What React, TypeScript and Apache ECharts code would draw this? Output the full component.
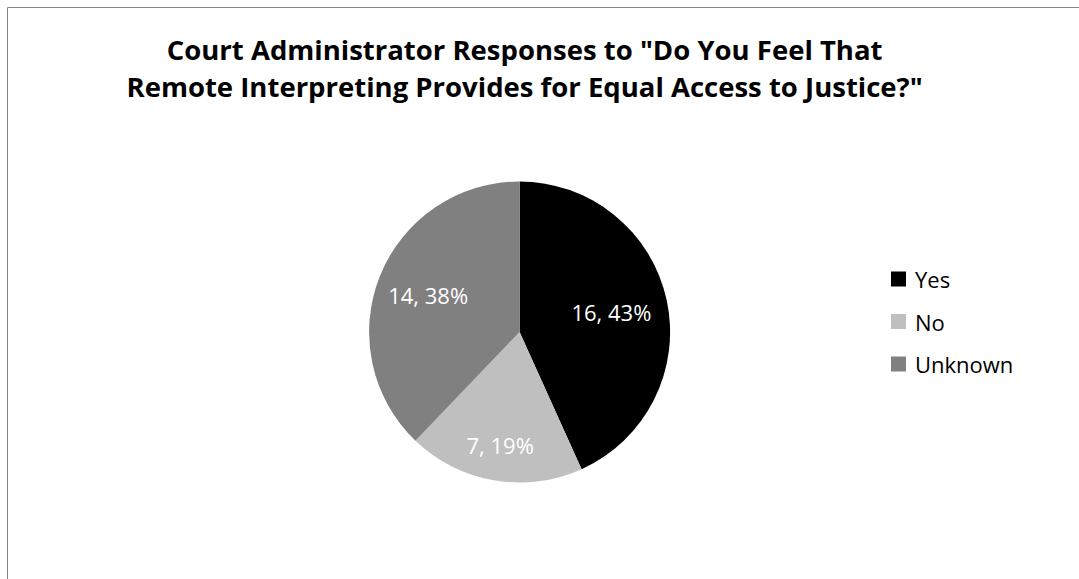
import React, { useEffect, useRef } from "react";
import * as echarts from "echarts";

const titleLines = [
  'Court Administrator Responses to "Do You Feel That',
  'Remote Interpreting Provides for Equal Access to Justice?"',
];
const categories = ["Yes", "No", "Unknown"];
const counts = [16, 7, 14];
const colors = ["#000000", "#bfbfbf", "#808080"];

const CX = 519.6;
const CY = 332;
const labelPush = [1.2, 1.47, 1.26];

export default function App() {
  const ref = useRef<HTMLDivElement>(null);
  useEffect(() => {
    if (!ref.current) return;
    const chart = echarts.init(ref.current, null, { renderer: "svg" });
    const total = counts.reduce((a, b) => a + b, 0);
    chart.setOption({
      animation: false,
      backgroundColor: "#ffffff",
      title: {
        text: titleLines.join("\n"),
        left: CX,
        top: 26,
        textAlign: "center",
        textStyle: {
          fontFamily: "Open Sans",
          fontWeight: "bold",
          fontSize: 27.5,
          lineHeight: 37,
          color: "#000000",
        },
      },
      legend: {
        orient: "vertical",
        left: 886,
        top: 263,
        itemWidth: 15,
        itemHeight: 15,
        itemGap: 20.5,
        icon: "rect",
        data: categories,
        textStyle: {
          fontFamily: "Open Sans",
          fontSize: 22,
          lineHeight: 22,
          color: "#000000",
          padding: [0, 0, 0, 4],
        },
      },
      graphic: [
        {
          type: "rect",
          shape: { x: 7.5, y: 7.5, width: 1200, height: 700 },
          style: { fill: "none", stroke: "#868686", lineWidth: 1 },
          silent: true,
          z: 100,
        },
      ],
      series: [
        {
          type: "pie",
          center: [CX, CY],
          radius: 150.5,
          startAngle: 90,
          clockwise: true,
          data: categories.map((c, i) => ({
            name: c,
            value: counts[i],
            itemStyle: { color: colors[i] },
          })),
          label: {
            show: true,
            position: "inside",
            color: "#ffffff",
            fontFamily: "Open Sans",
            fontSize: 22,
            formatter: (p: any) =>
              `${p.value}, ${Math.round((p.value / total) * 100)}%`,
          },
          labelLayout: (params: any) => {
            const r = params.labelRect;
            const lx = r.x + r.width / 2;
            const ly = r.y + r.height / 2;
            const k = labelPush[params.dataIndex] - 1;
            return { dx: (lx - CX) * k, dy: (ly - CY) * k };
          },
          emphasis: { disabled: true },
        },
      ],
    });
    return () => chart.dispose();
  }, []);
  return (
    <div
      ref={ref}
      style={{ position: "fixed", left: 0, top: 0, width: 1079, height: 579 }}
    />
  );
}
